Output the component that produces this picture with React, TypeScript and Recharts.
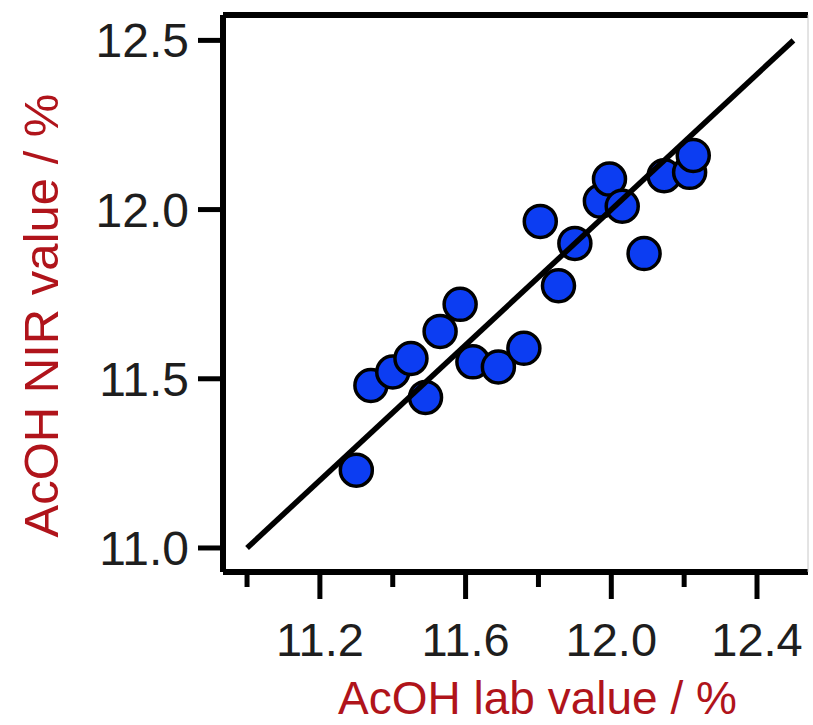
import React from "react";
import {
  ScatterChart,
  Scatter,
  XAxis,
  YAxis,
  Label,
} from "recharts";

// AcOH lab value vs. NIR predicted value (%)
const labValues = [
  11.3, 11.34, 11.4, 11.45, 11.49, 11.53, 11.585, 11.62, 11.69, 11.76,
  11.805, 11.855, 11.9, 11.97, 11.995, 12.03, 12.09, 12.145, 12.215, 12.225,
];
const nirValues = [
  11.23, 11.48, 11.52, 11.56, 11.445, 11.64, 11.72, 11.55, 11.535, 11.59,
  11.965, 11.775, 11.9, 12.025, 12.09, 12.01, 11.87, 12.1, 12.11, 12.16,
];
const idealLine = [
  { x: 11.0, y: 11.0 },
  { x: 12.5, y: 12.5 },
];
const xTicks = [11.0, 11.2, 11.4, 11.6, 11.8, 12.0, 12.2, 12.4];
const xMajor = [11.2, 11.6, 12.0, 12.4];
const yTicks = [11.0, 11.5, 12.0, 12.5];

const points = labValues.map((x, i) => ({ x, y: nirValues[i] }));

const FONT = "'Liberation Sans', Arial, sans-serif";
const TITLE_RED = "#b0141b";

const XTick = (props: any) => {
  const { x, y, payload } = props;
  const major = xMajor.some((m) => Math.abs(m - payload.value) < 1e-6);
  return (
    <g>
      <line x1={x} x2={x} y1={y} y2={y + (major ? 27 : 15)} stroke="#000" strokeWidth={5} />
      {major && (
        <text x={x} y={y + 84} textAnchor="middle" fontSize={47} fill="#1e1e1e" fontFamily={FONT}>
          {payload.value.toFixed(1)}
        </text>
      )}
    </g>
  );
};

const YTitle = (props: any) => {
  const { viewBox } = props;
  const cy = viewBox.y + viewBox.height / 2 + 22;
  return (
    <text
      x={58}
      y={cy}
      transform={`rotate(-90 58 ${cy})`}
      textAnchor="middle"
      fontSize={49}
      fill={TITLE_RED}
      fontFamily={FONT}
    >
      AcOH NIR value / %
    </text>
  );
};

const XTitle = (props: any) => {
  const { viewBox } = props;
  const cx = viewBox.x + viewBox.width / 2 + 22;
  return (
    <text x={cx} y={714} textAnchor="middle" fontSize={46} fill={TITLE_RED} fontFamily={FONT}>
      AcOH lab value / %
    </text>
  );
};

export default function App() {
  return (
    <div style={{ position: "absolute", left: 0, top: 0, background: "#fff" }}>
      <ScatterChart width={813} height={725} margin={{ top: 14, right: 0, bottom: 0, left: 0 }}>
        <XAxis
          xAxisId="b"
          type="number"
          dataKey="x"
          domain={[10.934, 12.54]}
          ticks={xTicks}
          interval={0}
          height={153}
          axisLine={{ stroke: "#000", strokeWidth: 6 }}
          tickLine={false}
          tickSize={0}
          tickMargin={0}
          tick={<XTick />}
        >
          <Label content={<XTitle />} />
        </XAxis>
        <XAxis
          xAxisId="t"
          orientation="top"
          type="number"
          dataKey="x"
          domain={[10.934, 12.54]}
          height={1}
          axisLine={{ stroke: "#000", strokeWidth: 6 }}
          tick={false}
          tickLine={false}
        />
        <YAxis
          yAxisId="l"
          type="number"
          dataKey="y"
          domain={[10.929, 12.575]}
          ticks={yTicks}
          interval={0}
          width={223}
          tickFormatter={(v: number) => v.toFixed(1)}
          tickSize={25}
          tickMargin={9}
          tickLine={{ stroke: "#000", strokeWidth: 5 }}
          axisLine={{ stroke: "#000", strokeWidth: 6 }}
          tick={{ fontSize: 48, fill: "#1e1e1e", fontFamily: FONT }}
        >
          <Label content={<YTitle />} />
        </YAxis>
        <YAxis
          yAxisId="r"
          orientation="right"
          type="number"
          dataKey="y"
          domain={[10.929, 12.575]}
          width={5}
          axisLine={{ stroke: "#c8c8c8", strokeWidth: 1 }}
          tick={false}
          tickLine={false}
        />
        <Scatter
          xAxisId="b"
          yAxisId="l"
          data={points}
          isAnimationActive={false}
          shape={(p: any) => (
            <circle cx={p.cx} cy={p.cy} r={16} fill="#0c3df2" stroke="#000" strokeWidth={3.5} />
          )}
        />
        <Scatter
          xAxisId="b"
          yAxisId="l"
          data={idealLine}
          isAnimationActive={false}
          line={{ stroke: "#000", strokeWidth: 5.5 }}
          shape={() => <g />}
        />
      </ScatterChart>
    </div>
  );
}
